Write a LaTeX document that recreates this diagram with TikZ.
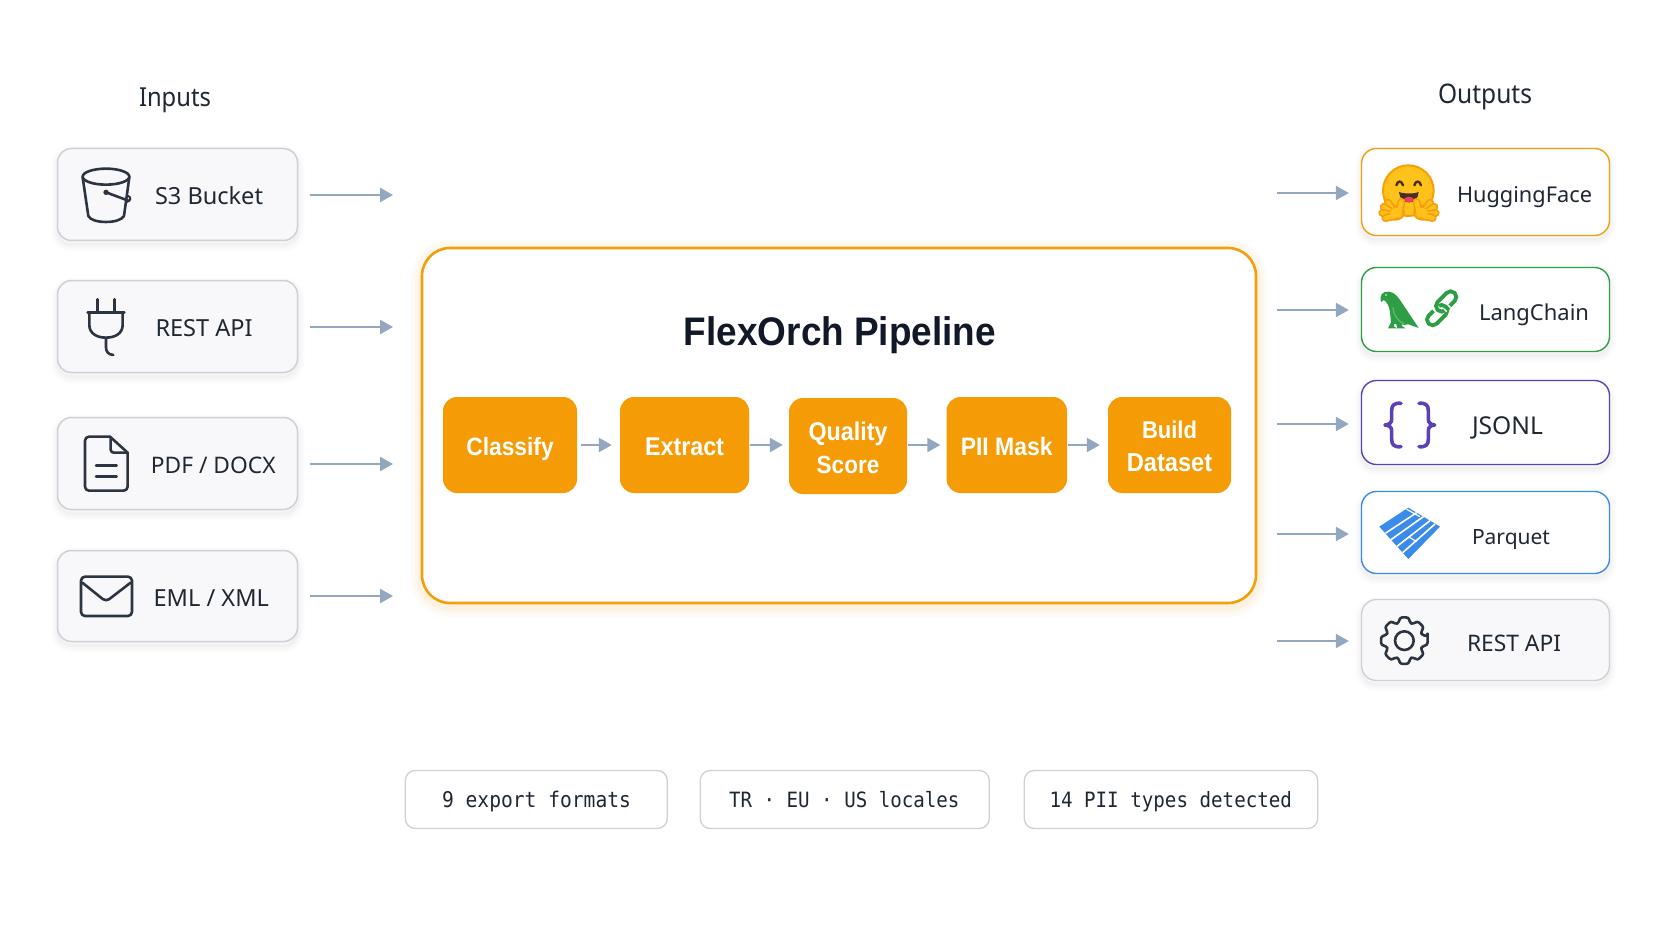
\documentclass[tikz,border=0pt]{standalone}
\usepackage{graphicx}
\usepackage{fontspec}
\setmainfont{Noto Sans}
\setmonofont{DejaVu Sans Mono}
\newfontfamily\heavy{Liberation Sans}[BoldFont={Liberation Sans Bold}]
\usetikzlibrary{arrows.meta}
\definecolor{ink}{HTML}{1F2733}
\definecolor{titleink}{HTML}{111827}
\definecolor{icon}{HTML}{2B3440}
\definecolor{amber}{HTML}{F59E0B}
\definecolor{stepfill}{HTML}{F59B05}
\definecolor{slate}{HTML}{93A7C1}
\definecolor{edge}{HTML}{CDD0D6}
\definecolor{soft}{HTML}{F8F8FA}
\definecolor{leaf}{HTML}{2E9E44}
\definecolor{violet}{HTML}{5B40B8}
\definecolor{sky}{HTML}{3B8BEB}
\definecolor{hug}{HTML}{FFC21A}
\definecolor{hugedge}{HTML}{FA9D0B}
\definecolor{mouth}{HTML}{4A2C22}
\definecolor{tongue}{HTML}{E9425E}
\newcommand{\fitw}[2]{\resizebox{#1pt}{!}{#2}}
\newcommand{\fitt}[3]{\scalebox{1}[#2]{\resizebox{#1pt}{!}{#3}}}
\tikzset{
  softshadow/.style={
    preaction={draw=black,draw opacity=.010,line width=14pt,transform canvas={yshift=-4pt}},
    preaction={draw=black,draw opacity=.012,line width=10pt,transform canvas={yshift=-4pt}},
    preaction={draw=black,draw opacity=.014,line width=6pt,transform canvas={yshift=-4pt}},
    preaction={draw=black,draw opacity=.018,line width=2pt,transform canvas={yshift=-4pt}}},
  glow/.style={
    preaction={draw=amber,draw opacity=.03,line width=22pt,transform canvas={yshift=-3pt}},
    preaction={draw=amber,draw opacity=.04,line width=15pt,transform canvas={yshift=-3pt}},
    preaction={draw=amber,draw opacity=.05,line width=9pt,transform canvas={yshift=-3pt}}},
  srcbox/.style={draw=edge,line width=1.5pt,fill=soft,rounded corners=14pt,inner sep=0pt,minimum width=240pt,softshadow},
  sinkbox/.style={line width=1.4pt,fill=white,rounded corners=15pt,inner sep=0pt,minimum width=248pt,softshadow},
  mainbox/.style={draw=amber,line width=2.6pt,fill=white,rounded corners=28pt,inner sep=0pt,minimum width=834pt,minimum height=355pt,glow},
  stepbox/.style={fill=stepfill,rounded corners=14pt,inner sep=0pt,minimum height=96pt,text=white,font=\heavy\bfseries\fontsize{24}{33}\selectfont,align=center},
  oneline/.style={text height=22pt,text depth=2pt},
  chip/.style={draw=edge,line width=1.3pt,fill=white,rounded corners=10pt,inner sep=0pt,minimum height=58pt},
  lbl/.style={anchor=base,inner sep=0pt,text=ink,font=\fontsize{24}{28}\selectfont},
  chiptext/.style={anchor=base,inner sep=0pt,text=ink,font=\ttfamily\fontsize{19}{24}\selectfont},
  link/.style={draw=slate,line width=2.4pt,-{Triangle[length=13pt,width=14pt,fill=slate]}},
  ico/.style={draw=icon,line width=2.6pt,line cap=round,line join=round},
  chainlink/.style={draw=leaf,line width=3.8pt,rounded corners=5.5pt},
  za/.style={x=.3333pt,y=-.3333pt,shift={(0pt,-60pt)}},
  zb/.style={x=.3333pt,y=-.3333pt,shift={(0pt,-400pt)}},
  zc/.style={x=.3333pt,y=-.3333pt,shift={(1260pt,-70pt)}},
  zd/.style={x=.3333pt,y=-.3333pt,shift={(1260pt,-370pt)}},
}
% one finger of the hugging hand: outline first, then the yellow on top
\newcommand{\finger}[2]{\draw[hugedge,line width=8pt,line cap=round] #1 -- #2; \draw[hug,line width=4.4pt,line cap=round] #1 -- #2;}
\begin{document}
\begin{tikzpicture}[x=1pt,y=-1pt]
\path[use as bounding box,fill=white] (0,0) rectangle (1672,941);

% headings
\node[lbl] (inputs) at (175,106.7) {\fitt{72}{1.1}{Inputs}};
\node[lbl] (outputs) at (1485,104) {\fitt{94}{1.1}{Outputs}};

% input boxes
\node[srcbox,minimum height=92pt] (s3) at (177.5,194.5) {};
\node[srcbox,minimum height=92pt] (rest) at (177.5,326.5) {};
\node[srcbox,minimum height=92pt] (pdf) at (177.5,463.5) {};
\node[srcbox,minimum height=91pt] (eml) at (177.5,596) {};
\node[lbl] (s3t) at (209,205) {\fitw{108}{S3 Bucket}};
\node[lbl] (restt) at (204,336.5) {\fitw{97}{REST API}};
\node[lbl] (pdft) at (213.3,473) {\fitw{124.7}{PDF / DOCX}};
\node[lbl] (emlt) at (211.3,606) {\fitw{115.3}{EML / XML}};

% main box and steps
\node[mainbox] (main) at (839,425.5) {};
\node[anchor=base,inner sep=0pt,text=titleink,font=\heavy\bfseries\fontsize{38}{44}\selectfont] (title) at (840,345) {\fitt{312}{1.08}{FlexOrch Pipeline}};
\node[stepbox,oneline,minimum width=134pt] (classify) at (510,445) {\fitt{87.4}{1.1}{Classify}};
\node[stepbox,oneline,minimum width=129pt] (extract) at (684.5,445) {\fitt{79}{1.1}{Extract}};
\node[stepbox,minimum width=118pt] (quality) at (848,446) {\rule{0pt}{22pt}\fitt{79}{1.1}{Quality}\\\fitt{62.6}{1.1}{Score}};
\node[stepbox,oneline,minimum width=120.5pt] (pii) at (1006.75,445) {\fitt{92}{1.1}{PII Mask}};
\node[stepbox,minimum width=123pt] (build) at (1169.5,445) {\rule{0pt}{20pt}\fitt{55}{1.1}{Build}\\\fitt{85.5}{1.1}{Dataset}};

\draw[link,shorten <=4pt,shorten >=8pt] (classify.east) -- (extract.west);
\draw[link,shorten <=1pt,shorten >=6pt] (extract.east) -- (extract.east -| quality.west);
\draw[link,shorten <=1pt,shorten >=6pt] (quality.east |- pii.west) -- (pii.west);
\draw[link,shorten <=1pt,shorten >=8pt] (pii.east) -- (build.west);

% output boxes
\node[sinkbox,draw=amber,minimum height=87pt] (hf) at (1485.5,192) {};
\node[sinkbox,draw=leaf,minimum height=84pt] (lc) at (1485.5,309.5) {};
\node[sinkbox,draw=violet,minimum height=84pt] (jsonl) at (1485.5,422.5) {};
\node[sinkbox,draw=sky,minimum height=82pt] (parquet) at (1485.5,532.5) {};
\node[sinkbox,draw=edge,fill=soft,minimum height=81pt] (api) at (1485.5,640) {};
\node[lbl] (hft) at (1524.5,203) {\fitw{135}{HuggingFace}};
\node[lbl] (lct) at (1534,320) {\fitw{110}{LangChain}};
\node[lbl] (jsonlt) at (1507.5,434.5) {\fitw{71}{JSONL}};
\node[lbl] (parquett) at (1511,544) {\fitw{78}{Parquet}};
\node[lbl] (apit) at (1514,651) {\fitw{94}{REST API}};

% connectors left
\coordinate (i1) at (393,195);
\coordinate (i2) at (393,327);
\coordinate (i3) at (393,464);
\coordinate (i4) at (393,596);
\draw[link,shorten <=12pt] (i1 -| s3.east) -- (i1);
\draw[link,shorten <=12pt] (i2 -| rest.east) -- (i2);
\draw[link,shorten <=12pt] (i3 -| pdf.east) -- (i3);
\draw[link,shorten <=12pt] (i4 -| eml.east) -- (i4);
% connectors right
\coordinate (o1) at (1277,193);
\coordinate (o2) at (1277,310);
\coordinate (o3) at (1277,424);
\coordinate (o4) at (1277,534);
\coordinate (o5) at (1277,641);
\draw[link,shorten >=12pt] (o1) -- (o1 -| hf.west);
\draw[link,shorten >=12pt] (o2) -- (o2 -| lc.west);
\draw[link,shorten >=12pt] (o3) -- (o3 -| jsonl.west);
\draw[link,shorten >=12pt] (o4) -- (o4 -| parquet.west);
\draw[link,shorten >=12pt] (o5) -- (o5 -| api.west);

% chips
\node[chip,minimum width=262pt] (c1) at (536.3,799.5) {};
\node[chip,minimum width=289pt] (c2) at (844.75,799.5) {};
\node[chip,minimum width=293.5pt] (c3) at (1171,799.5) {};
\node[chiptext] (c1t) at (536.5,807) {\fitt{189}{1.1}{9 export formats}};
\node[chiptext] (c2t) at (844.25,807) {\fitt{230.5}{1.1}{TR · EU · US locales}};
\node[chiptext] (c3t) at (1170.75,807) {\fitt{242.5}{1.1}{14 PII types detected}};

% bucket
\begin{scope}[za]
\draw[ico] (318,350) ellipse [x radius=70,y radius=24];
\draw[ico] (248,352) -- (265,468) .. controls (275,492) and (360,492) .. (372,468) -- (388,352);
\draw[ico] (318,397) -- (385,422);
\fill[icon] (318,397) circle (8);
\draw[ico,line width=2pt] (384,408) .. controls (394,410) and (394,424) .. (380,426);
\end{scope}
% plug
\begin{scope}[za]
\draw[ico] (292,718) -- (292,757) (343,718) -- (343,757);
\draw[ico] (263,758) -- (373,758);
\draw[ico] (268,760) -- (268,795) .. controls (268,820) and (290,833) .. (318,833) .. controls (346,833) and (368,820) .. (368,795) -- (368,760);
\draw[ico] (318,833) -- (318,862) .. controls (318,876) and (326,884) .. (340,885);
\end{scope}
% document
\begin{scope}[zb]
\draw[ico,rounded corners=4pt] (330,110) -- (255,110) -- (255,272) -- (383,272) -- (383,158);
\draw[ico] (330,110) -- (383,158);
\draw[ico,rounded corners=3pt] (332,112) -- (332,158) -- (381,158);
\draw[ico] (288,197) -- (350,197) (288,229) -- (350,229);
\end{scope}
% envelope
\begin{scope}[zb]
\draw[ico,rounded corners=4pt] (243,530) rectangle (396,648);
\draw[ico,rounded corners=4pt] (247,548) -- (318,605) -- (392,548);
\end{scope}
% huggingface
\begin{scope}[zc]
\draw[hugedge,fill=hug,line width=2pt] (445,362) circle (76);
\draw[mouth,line width=2.3pt,line cap=round] (409,346) .. controls (413,331) and (425,331) .. (429,346);
\draw[mouth,line width=2.3pt,line cap=round] (463,346) .. controls (467,331) and (479,331) .. (483,346);
\fill[mouth] (417,366) .. controls (430,372) and (464,372) .. (476,366) .. controls (474,408) and (420,408) .. (417,366) -- cycle;
\fill[tongue] (431,388) .. controls (440,378) and (454,378) .. (463,388) .. controls (458,400) and (436,400) .. (431,388) -- cycle;
% left hand
\draw[hugedge,fill=hug,line width=2pt] (406,428) ellipse [x radius=26,y radius=21];
\finger{(418,425)}{(424,396)}
\finger{(402,426)}{(384,398)}
\finger{(400,430)}{(371,411)}
\finger{(400,434)}{(367,429)}
\finger{(404,438)}{(376,444)}
\fill[hug] (408,428) ellipse [x radius=18,y radius=14];
% right hand
\draw[hugedge,fill=hug,line width=2pt] (488,428) ellipse [x radius=26,y radius=21];
\finger{(476,425)}{(470,396)}
\finger{(492,426)}{(510,398)}
\finger{(494,430)}{(523,411)}
\finger{(494,434)}{(527,429)}
\finger{(490,438)}{(518,444)}
\fill[hug] (486,428) ellipse [x radius=18,y radius=14];
\end{scope}
% parrot
\begin{scope}[zc]
\fill[leaf] (364,696) .. controls (356,676) and (368,663) .. (387,665) .. controls (408,667) and (418,688) .. (430,705) -- (452,738) -- (476,774) -- (445,763) -- (432,765) -- (424,762) -- (428,770) -- (437,775) -- (412,775) -- (409,762) -- (402,762) -- (402,770) -- (411,775) -- (384,775) -- (393,757) -- (390,727) .. controls (388,708) and (380,695) .. (371,690) -- cycle;
\fill[white] (378,675) circle (2.5);
\draw[white!25!leaf,line width=1.3pt,line cap=round] (399,713) .. controls (400,735) and (412,752) .. (432,761);
\end{scope}
% chain
\begin{scope}[zc,shift={(545,715)},rotate=45]
\draw[chainlink] (-60,-12) rectangle (12,22);
\draw[white,line width=7pt] (-12,-6) -- (-12,-18);
\draw[chainlink] (-12,-22) rectangle (60,12);
\draw[white,line width=7pt] (12,6) -- (12,18);
\draw[draw=leaf,line width=3.8pt] (12,3) -- (12,19);
\end{scope}
% braces
\begin{scope}[zd]
\draw[violet,line width=3.6pt,line cap=round,line join=round] (423,100) .. controls (402,98) and (395,106) .. (395,122) -- (395,148) .. controls (395,158) and (388,164) .. (375,165) .. controls (388,166) and (395,172) .. (395,182) -- (395,208) .. controls (395,224) and (402,232) .. (423,230);
\draw[violet,line width=3.6pt,line cap=round,line join=round] (477,100) .. controls (498,98) and (505,106) .. (505,122) -- (505,148) .. controls (505,158) and (512,164) .. (524,165) .. controls (512,166) and (505,172) .. (505,182) -- (505,208) .. controls (505,224) and (498,232) .. (477,230);
\end{scope}
% parquet
\begin{scope}[zd]
\fill[sky] (358,470) -- (445,413) -- (540,470) -- (445,567) -- cycle;
\draw[white,line width=1.6pt] (376,490) -- (470,428) (393,509) -- (490,440) (411,529) -- (510,452) (428,548) -- (525,462);
\draw[white,line width=1.2pt] (440,418) -- (480,440) (445,500) -- (470,515);
\end{scope}
% gear
\begin{scope}[zd,shift={(433,812)}]
\draw[ico,rounded corners=2.5pt] (-11:71) \foreach \a in {0,45,...,315}{ -- (\a-11:71) -- (\a+11:71) -- (\a+17:56) -- (\a+28:56) } -- cycle;
\draw[ico] (0,0) circle (28);
\end{scope}
\end{tikzpicture}
\end{document}
